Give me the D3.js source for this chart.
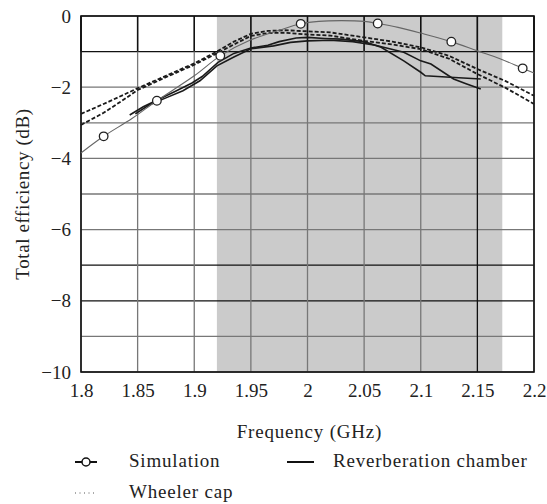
<!DOCTYPE html>
<html>
<head>
<meta charset="utf-8">
<script src="https://cdn.jsdelivr.net/npm/d3@7"></script>
<style>
  body { margin: 0; background: #fff; }
  svg text { font-family: "Liberation Serif", "Times New Roman", serif; fill: #222; }
</style>
</head>
<body>
<script>
var width = 547,
    height = 504,
    margin = {top: 16, right: 13, bottom: 132, left: 81};

// ---- data ----
var freqTicks = [1.8, 1.85, 1.9, 1.95, 2.0, 2.05, 2.1, 2.15, 2.2];
var effTicks = [0, -2, -4, -6, -8, -10];
var gridEff = [0, -1, -2, -3, -4, -5, -6, -7, -8, -9, -10];
var band = [1.92, 2.172];

var simFreq = [1.8, 1.82, 1.845, 1.867, 1.9, 1.923, 1.95, 1.975, 1.994, 2.01, 2.03, 2.05, 2.062, 2.08, 2.1, 2.127, 2.15, 2.17, 2.19, 2.2];
var simEff  = [-3.85, -3.38, -2.88, -2.38, -1.68, -1.12, -0.67, -0.4, -0.22, -0.15, -0.13, -0.15, -0.21, -0.32, -0.48, -0.72, -0.98, -1.2, -1.47, -1.6];
var simMarkFreq = [1.82, 1.867, 1.923, 1.994, 2.062, 2.127, 2.19];
var simMarkEff  = [-3.38, -2.38, -1.12, -0.22, -0.21, -0.72, -1.47];

var wheelerAFreq = [1.8, 1.825, 1.85, 1.875, 1.9, 1.92, 1.935, 1.95, 1.965, 1.98, 2.0, 2.02, 2.05, 2.075, 2.1, 2.125, 2.15, 2.175, 2.2];
var wheelerAEff  = [-2.75, -2.4, -2.03, -1.68, -1.33, -1.0, -0.72, -0.5, -0.42, -0.4, -0.43, -0.46, -0.6, -0.72, -0.88, -1.12, -1.49, -1.83, -2.24];
var wheelerBFreq = [1.8, 1.82, 1.84, 1.85, 1.875, 1.9, 1.92, 1.935, 1.95, 1.965, 1.98, 2.0, 2.02, 2.05, 2.075, 2.1, 2.125, 2.15, 2.175, 2.2];
var wheelerBEff  = [-3.06, -2.72, -2.3, -2.08, -1.72, -1.37, -1.05, -0.8, -0.56, -0.48, -0.47, -0.52, -0.55, -0.7, -0.8, -0.93, -1.2, -1.63, -2.02, -2.47];

var reverbAFreq = [1.843, 1.855, 1.866, 1.883, 1.898, 1.907, 1.921, 1.935, 1.95, 1.965, 1.975, 1.99, 2.0, 2.015, 2.03, 2.05, 2.065, 2.085, 2.1, 2.104, 2.126, 2.153];
var reverbAEff  = [-2.78, -2.55, -2.38, -2.12, -1.88, -1.7, -1.3, -1.05, -0.9, -0.82, -0.72, -0.62, -0.6, -0.63, -0.65, -0.72, -0.88, -1.26, -1.58, -1.68, -1.72, -1.77];
var reverbBFreq = [1.848, 1.86, 1.875, 1.89, 1.905, 1.92, 1.935, 1.95, 1.97, 1.985, 2.0, 2.02, 2.04, 2.06, 2.085, 2.1, 2.109, 2.129, 2.14, 2.153];
var reverbBEff  = [-2.75, -2.5, -2.3, -2.1, -1.82, -1.4, -1.15, -0.92, -0.84, -0.74, -0.7, -0.68, -0.72, -0.82, -1.02, -1.26, -1.35, -1.77, -1.9, -2.05];

var legendNames = ['Simulation', 'Reverberation chamber', 'Wheeler cap'];

// ---- chart ----
var svg = d3.select('body').append('svg')
    .attr('width', width)
    .attr('height', height);

var x = d3.scaleLinear().domain([1.8, 2.2]).range([margin.left, width - margin.right]);
var y = d3.scaleLinear().domain([-10, 0]).range([height - margin.bottom, margin.top]);

function pts(fs, es) {
  return fs.map(function(f, i) { return [f, es[i]]; });
}

// shaded band
svg.append('rect')
    .attr('x', x(band[0]))
    .attr('y', y(0))
    .attr('width', x(band[1]) - x(band[0]))
    .attr('height', y(-10) - y(0))
    .attr('fill', '#cbcbcb');

// grid
var darkEff = [-1, -7, -8];
svg.append('g').selectAll('line')
    .data(gridEff)
    .enter().append('line')
    .attr('x1', x(1.8)).attr('x2', x(2.2))
    .attr('y1', function(d) { return y(d); })
    .attr('y2', function(d) { return y(d); })
    .attr('stroke', function(d) { return darkEff.indexOf(d) >= 0 ? '#111' : '#777'; })
    .attr('stroke-width', 1.3);

svg.append('g').selectAll('line')
    .data(freqTicks)
    .enter().append('line')
    .attr('x1', function(d) { return x(d); })
    .attr('x2', function(d) { return x(d); })
    .attr('y1', y(0)).attr('y2', y(-10))
    .attr('stroke', function(d) { return d === 2.15 ? '#111' : '#777'; })
    .attr('stroke-width', 1.3);

// top row of the grid is printed darker
svg.append('g').selectAll('line')
    .data(freqTicks)
    .enter().append('line')
    .attr('x1', function(d) { return x(d); })
    .attr('x2', function(d) { return x(d); })
    .attr('y1', y(0)).attr('y2', y(-1))
    .attr('stroke', '#111')
    .attr('stroke-width', 1.5);

// frame
svg.append('rect')
    .attr('x', x(1.8)).attr('y', y(0))
    .attr('width', x(2.2) - x(1.8))
    .attr('height', y(-10) - y(0))
    .attr('fill', 'none')
    .attr('stroke', '#111')
    .attr('stroke-width', 1.6);

var line = d3.line()
    .x(function(d) { return x(d[0]); })
    .y(function(d) { return y(d[1]); });

var smooth = d3.line()
    .x(function(d) { return x(d[0]); })
    .y(function(d) { return y(d[1]); })
    .curve(d3.curveCatmullRom);

// wheeler cap (dashed)
[pts(wheelerAFreq, wheelerAEff), pts(wheelerBFreq, wheelerBEff)].forEach(function(p) {
  svg.append('path')
      .attr('d', line(p))
      .attr('fill', 'none')
      .attr('stroke', '#1a1a1a')
      .attr('stroke-width', 1.8)
      .attr('stroke-dasharray', '4,2');
});

// reverberation chamber (solid)
[pts(reverbAFreq, reverbAEff), pts(reverbBFreq, reverbBEff)].forEach(function(p) {
  svg.append('path')
      .attr('d', line(p))
      .attr('fill', 'none')
      .attr('stroke', '#1a1a1a')
      .attr('stroke-width', 1.6);
});

// simulation
svg.append('path')
    .attr('d', smooth(pts(simFreq, simEff)))
    .attr('fill', 'none')
    .attr('stroke', '#666')
    .attr('stroke-width', 1.1);

svg.append('g').selectAll('circle')
    .data(pts(simMarkFreq, simMarkEff))
    .enter().append('circle')
    .attr('cx', function(d) { return x(d[0]); })
    .attr('cy', function(d) { return y(d[1]); })
    .attr('r', 4.3)
    .attr('fill', '#fff')
    .attr('stroke', '#222')
    .attr('stroke-width', 1.3);

// axes (labels only)
var fmtMinus = function(d) { return d < 0 ? '\u2212' + Math.abs(d) : '' + d; };

var xAxis = svg.append('g')
    .attr('transform', 'translate(0,' + y(-10) + ')')
    .call(d3.axisBottom(x).tickValues(freqTicks).tickSize(0).tickPadding(12)
        .tickFormat(function(d) { return d3.format('')(+d.toFixed(2)); }));
xAxis.select('.domain').remove();
xAxis.selectAll('text').style('font-size', '19px').style('font-family', '"Liberation Serif", serif').attr('fill', '#222');

var yAxis = svg.append('g')
    .attr('transform', 'translate(' + x(1.8) + ',0)')
    .call(d3.axisLeft(y).tickValues(effTicks).tickSize(0).tickPadding(10).tickFormat(fmtMinus));
yAxis.select('.domain').remove();
yAxis.selectAll('text').style('font-size', '19px').style('font-family', '"Liberation Serif", serif').attr('fill', '#222');

// titles
svg.append('text')
    .attr('x', (x(1.8) + x(2.2)) / 2 + 2)
    .attr('y', 438)
    .attr('text-anchor', 'middle')
    .style('font-size', '19px')
    .style('letter-spacing', '0.8px')
    .text('Frequency (GHz)');

svg.append('text')
    .attr('transform', 'translate(29,' + (y(0) + y(-10)) / 2 + ') rotate(-90)')
    .attr('text-anchor', 'middle')
    .style('font-size', '19px')
    .style('letter-spacing', '0.6px')
    .text('Total efficiency (dB)');

// legend
var lg = svg.append('g');
var row1 = 462, row2 = 493;

lg.append('line').attr('x1', 75).attr('x2', 97).attr('y1', row1).attr('y2', row1)
    .attr('stroke', '#111').attr('stroke-width', 2);
lg.append('circle').attr('cx', 86).attr('cy', row1).attr('r', 4)
    .attr('fill', '#fff').attr('stroke', '#111').attr('stroke-width', 1.5);
lg.append('text').attr('x', 129).attr('y', row1 + 5).style('font-size', '19px')
    .style('letter-spacing', '0.8px').text(legendNames[0]);

lg.append('line').attr('x1', 287).attr('x2', 314).attr('y1', row1).attr('y2', row1)
    .attr('stroke', '#111').attr('stroke-width', 2);
lg.append('text').attr('x', 333).attr('y', row1 + 5).style('font-size', '19px')
    .style('letter-spacing', '0.8px').text(legendNames[1]);

lg.append('line').attr('x1', 75).attr('x2', 97).attr('y1', row2).attr('y2', row2)
    .attr('stroke', '#555').attr('stroke-width', 1).attr('stroke-dasharray', '1,3.5');
lg.append('text').attr('x', 129).attr('y', row2 + 5).style('font-size', '19px')
    .style('letter-spacing', '0.8px').text(legendNames[2]);
</script>
</body>
</html>
